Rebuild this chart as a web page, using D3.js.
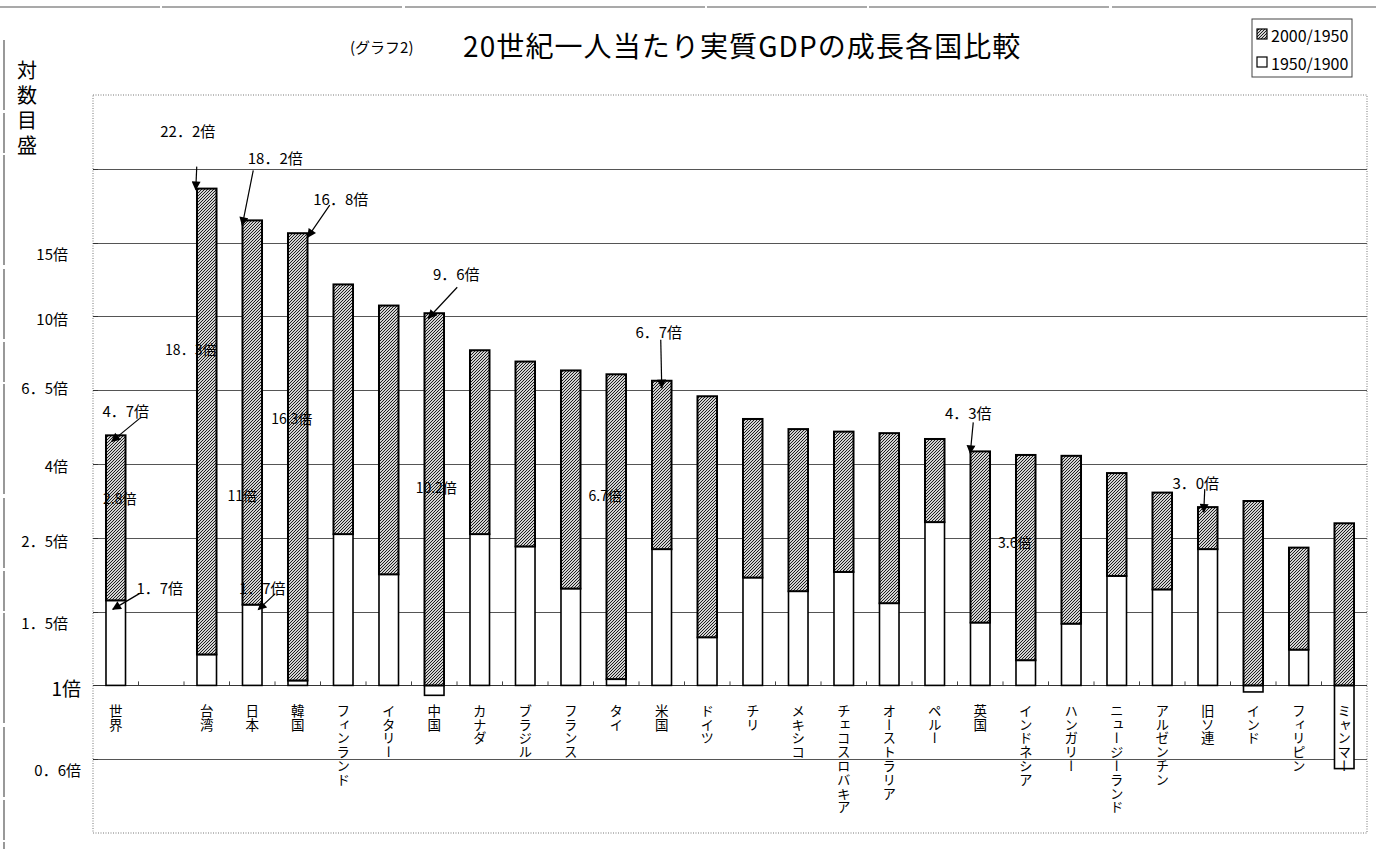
<!DOCTYPE html>
<html lang="ja">
<head>
<meta charset="utf-8">
<script src="https://cdn.jsdelivr.net/npm/d3@7"></script>
<style>
  html, body { margin: 0; padding: 0; background: #fff; }
  svg { display: block; font-family: "Noto Sans CJK JP", "Noto Sans", sans-serif; }
</style>
</head>
<body>
<svg id="chart" width="1376" height="849"></svg>
<script>
// ---- data -------------------------------------------------------------
// Countries (index 1 is an intentional empty slot after the world average)
const categories = ["世界", "", "台湾", "日本", "韓国", "フィンランド", "イタリー", "中国",
  "カナダ", "ブラジル", "フランス", "タイ", "米国", "ドイツ", "チリ", "メキシコ",
  "チェコスロバキア", "オーストラリア", "ペルー", "英国", "インドネシア", "ハンガリー",
  "ニュージーランド", "アルゼンチン", "旧ソ連", "インド", "フィリピン", "ミャンマー"];

// Growth multiple of real GDP per capita, 1950/1900
const growth1900to1950 = [1.70, null, 1.213, 1.655, 1.031, 2.57, 2.00, 0.94,
  2.57, 2.38, 1.83, 1.04, 2.34, 1.35, 1.96, 1.80,
  2.03, 1.67, 2.77, 1.48, 1.17, 1.47,
  1.98, 1.82, 2.34, 0.96, 1.25, 0.595];

// Growth multiple of real GDP per capita, 2000/1950
const growth1950to2000 = [2.80, null, 18.3, 11.0, 16.3, 4.75, 5.35, 10.2,
  3.15, 3.17, 3.90, 6.70, 2.86, 4.50, 2.69, 2.75,
  2.40, 2.89, 1.68, 2.91, 3.60, 2.85,
  1.90, 1.83, 1.30, 3.16, 1.89, 2.75];

const seriesNames = ["2000/1950", "1950/1900"];

// Hand-written y labels of the log axis
const yLabelValues = [0.6, 1, 1.5, 2.5, 4, 6.5, 10, 15];
const yLabelTexts = ["0．6倍", "1倍", "1．5倍", "2．5倍", "4倍", "6．5倍", "10倍", "15倍"];

// Callouts with arrows: bar index, which end of the stack, text
const callouts = [
  { i: 0, at: "top",   text: "4．7倍" },
  { i: 0, at: "white", text: "1．7倍" },
  { i: 2, at: "top",   text: "22．2倍" },
  { i: 3, at: "top",   text: "18．2倍" },
  { i: 3, at: "white", text: "1．7倍" },
  { i: 4, at: "top",   text: "16．8倍" },
  { i: 7, at: "top",   text: "9．6倍" },
  { i: 12, at: "top",  text: "6．7倍" },
  { i: 19, at: "top",  text: "4．3倍" },
  { i: 24, at: "top",  text: "3．0倍" }
];

// Labels written on the 2000/1950 segment
const segmentLabels = [
  { i: 0,  text: "2.8倍" },
  { i: 2,  text: "18．3倍" },
  { i: 3,  text: "11倍" },
  { i: 4,  text: "16.3倍" },
  { i: 7,  text: "10.2倍" },
  { i: 11, text: "6.7倍" },
  { i: 20, text: "3.6倍" }
];

// ---- layout -----------------------------------------------------------
const W = 1376, H = 849;
const plot = { left: 93, right: 1367, top: 95, bottom: 833 };

// offsets (px) of arrow tip, arrow tail and text, relative to bar centre / stack end
const calloutLayout = [
  { tip: [-4, 6],  tail: [24, -17], label: [10, -25] },
  { tip: [-3, 9],  tail: [24, -7],  label: [44, -13] },
  { tip: [-11, 1], tail: [-10, -22], label: [-19, -58] },
  { tip: [-10, 5], tail: [1, -50],  label: [23, -63] },
  { tip: [6, 5],   tail: [23, -11], label: [10, -17] },
  { tip: [10, 4],  tail: [32, -28], label: [43, -35] },
  { tip: [-6, 5],  tail: [23, -26], label: [22, -40] },
  { tip: [0, 7],   tail: [-1, -41], label: [-3, -49] },
  { tip: [-10, 2], tail: [-7, -29], label: [-12, -39] },
  { tip: [-4, 5],  tail: [-3, -18], label: [-12, -25] }
];
const segmentLabelLayout = [
  [4, 63], [-16, 160], [-10, 275], [-6, 185], [2, 174], [-11, 121], [-11, 87]
];

const svg = d3.select("#chart");
const defs = svg.append("defs");

// fine dithered half-tone fill for the 2000/1950 series
const pat = defs.append("pattern")
  .attr("id", "halftone")
  .attr("patternUnits", "userSpaceOnUse")
  .attr("width", 3).attr("height", 3);
pat.append("rect").attr("width", 3).attr("height", 3).attr("fill", "#d2d2d2");
[[0, 0], [2, 1], [1, 2]].forEach(([px, py]) =>
  pat.append("rect").attr("x", px).attr("y", py).attr("width", 1).attr("height", 1).attr("fill", "#1e1e1e"));

defs.append("marker")
  .attr("id", "arrowhead")
  .attr("viewBox", "0 0 10 10")
  .attr("refX", 9).attr("refY", 5)
  .attr("markerWidth", 10).attr("markerHeight", 9)
  .attr("markerUnits", "userSpaceOnUse")
  .attr("orient", "auto")
  .append("path").attr("d", "M0,0 L10,5 L0,10 Z").attr("fill", "#000");

// ---- scales -----------------------------------------------------------
const x = d3.scaleBand()
  .domain(d3.range(categories.length))
  .range([plot.left, plot.right])
  .paddingInner(0.571)
  .paddingOuter(0.2855);

const y = d3.scaleLog()
  .domain([Math.pow(10, -0.4), Math.pow(10, 1.6)])
  .range([plot.bottom, plot.top]);

const cx = i => x(i) + x.bandwidth() / 2;

// ---- page frame --------------------------------------------------------
const frame = svg.append("g").attr("stroke", "#555").attr("fill", "none");
frame.append("line").attr("x1", 0).attr("x2", W).attr("y1", 7).attr("y2", 7)
  .attr("stroke-width", 1.2).attr("stroke-dasharray", "160,2,240,3,300,2");
frame.append("line").attr("x1", 4).attr("x2", 4).attr("y1", 40).attr("y2", H)
  .attr("stroke-width", 1.2).attr("stroke-dasharray", "70,3,40,2,110,4");

// ---- title ------------------------------------------------------------
svg.append("text").attr("x", 350).attr("y", 46)
  .attr("dominant-baseline", "central")
  .attr("font-size", 15).text("(グラフ2)");
svg.append("text").attr("x", 463).attr("y", 45)
  .attr("dominant-baseline", "central")
  .attr("font-size", 28).attr("letter-spacing", 1.1)
  .text("20世紀一人当たり実質GDPの成長各国比較");

// y axis caption (vertical)
svg.append("text")
  .attr("x", 27).attr("y", 60)
  .style("writing-mode", "vertical-rl")
  .attr("font-size", 20).attr("letter-spacing", 5)
  .text("対数目盛");

// ---- plot area --------------------------------------------------------
svg.append("rect")
  .attr("x", plot.left).attr("y", plot.top)
  .attr("width", plot.right - plot.left).attr("height", plot.bottom - plot.top)
  .attr("fill", "none").attr("stroke", "#777").attr("stroke-dasharray", "1,1.5");

// gridlines every 0.2 decades
const gridValues = d3.range(-1, 8).map(k => Math.pow(10, k / 5));
svg.append("g").selectAll("line").data(gridValues).join("line")
  .attr("x1", plot.left).attr("x2", plot.right)
  .attr("y1", d => Math.round(y(d)) + 0.5).attr("y2", d => Math.round(y(d)) + 0.5)
  .attr("stroke", d => d === 1 ? "#333" : "#555")
  .attr("stroke-width", 1);

// small tick marks on the left border and the category axis
svg.append("g").selectAll("line").data(gridValues).join("line")
  .attr("x1", plot.left).attr("x2", plot.left + 5)
  .attr("y1", d => Math.round(y(d)) + 0.5).attr("y2", d => Math.round(y(d)) + 0.5)
  .attr("stroke", "#333");
svg.append("g").selectAll("line").data(d3.range(1, categories.length)).join("line")
  .attr("x1", i => x(i) - x.step() * x.paddingInner() / 2)
  .attr("x2", i => x(i) - x.step() * x.paddingInner() / 2)
  .attr("y1", y(1) - 4).attr("y2", y(1))
  .attr("stroke", "#444");

// y labels
svg.append("g").selectAll("text").data(yLabelValues).join("text")
  .attr("x", d => d === 1 || d === 0.6 ? 81 : 68)
  .attr("y", d => y(d) + 2)
  .attr("text-anchor", "end")
  .attr("dominant-baseline", "central")
  .attr("font-size", d => d === 1 ? 19 : 15)
  .text((d, k) => yLabelTexts[k]);

// ---- bars -------------------------------------------------------------
const rows = categories.map((name, i) => ({
  i, name, r1: growth1900to1950[i], r2: growth1950to2000[i]
})).filter(d => d.r1 != null);

rows.forEach(d => {
  if (d.r1 >= 1) { d.w = [1, d.r1]; d.g = [d.r1, d.r1 * d.r2]; }
  else { d.w = [d.r1, 1]; d.g = [1, d.r2]; }   // negative log stacks below the axis
});

const bw = x.bandwidth();
const bars = svg.append("g");

bars.selectAll("rect.white").data(rows).join("rect")
  .attr("class", "white")
  .attr("x", d => x(d.i)).attr("width", bw)
  .attr("y", d => y(Math.max(...d.w)))
  .attr("height", d => Math.max(0.5, y(Math.min(...d.w)) - y(Math.max(...d.w))))
  .attr("fill", "#fff").attr("stroke", "#000").attr("stroke-width", 1.6);

bars.selectAll("rect.gray").data(rows).join("rect")
  .attr("class", "gray")
  .attr("x", d => x(d.i)).attr("width", bw)
  .attr("y", d => y(d.g[1]))
  .attr("height", d => y(d.g[0]) - y(d.g[1]))
  .attr("fill", "url(#halftone)").attr("stroke", "#000").attr("stroke-width", 2);

// category labels (vertical)
svg.append("g").selectAll("text").data(categories).join("text")
  .attr("x", (d, i) => cx(i))
  .attr("y", 704)
  .style("writing-mode", "vertical-rl")
  .attr("font-size", 13.5)
  .attr("letter-spacing", 0.3)
  .text(d => d);

// ---- annotations ------------------------------------------------------
const byIndex = new Map(rows.map(d => [d.i, d]));
const anchorY = c => {
  const d = byIndex.get(c.i);
  return c.at === "top" ? y(d.g[1]) : y(d.r1);
};

const ann = svg.append("g");
callouts.forEach((c, k) => {
  const L = calloutLayout[k];
  const ax = cx(c.i), ay = anchorY(c);
  ann.append("line")
    .attr("x1", ax + L.tail[0]).attr("y1", ay + L.tail[1])
    .attr("x2", ax + L.tip[0]).attr("y2", ay + L.tip[1])
    .attr("stroke", "#000").attr("stroke-width", 1.2)
    .attr("marker-end", "url(#arrowhead)");
  ann.append("text")
    .attr("x", ax + L.label[0]).attr("y", ay + L.label[1])
    .attr("text-anchor", "middle").attr("dominant-baseline", "central")
    .attr("font-size", 15).text(c.text);
});

segmentLabels.forEach((s, k) => {
  const d = byIndex.get(s.i);
  const off = segmentLabelLayout[k];
  ann.append("text")
    .attr("x", cx(s.i) + off[0]).attr("y", y(d.g[1]) + off[1])
    .attr("text-anchor", "middle").attr("dominant-baseline", "central")
    .attr("font-size", 14).text(s.text);
});

// ---- legend -----------------------------------------------------------
const lg = svg.append("g");
const lgBox = { x: 1252, y: 19, w: 100, h: 58 };
lg.append("rect").attr("x", lgBox.x).attr("y", lgBox.y)
  .attr("width", lgBox.w).attr("height", lgBox.h)
  .attr("fill", "#fff").attr("stroke", "#444").attr("stroke-width", 1);
seriesNames.forEach((name, k) => {
  const cy = lgBox.y + 15 + k * 28;
  lg.append("rect").attr("x", lgBox.x + 5).attr("y", cy - 5)
    .attr("width", 10).attr("height", 10)
    .attr("fill", k === 0 ? "url(#halftone)" : "#fff")
    .attr("stroke", "#000").attr("stroke-width", 1.2);
  lg.append("text").attr("x", lgBox.x + 19).attr("y", cy + 1)
    .attr("dominant-baseline", "central")
    .attr("font-size", 16).text(name);
});
</script>
</body>
</html>
